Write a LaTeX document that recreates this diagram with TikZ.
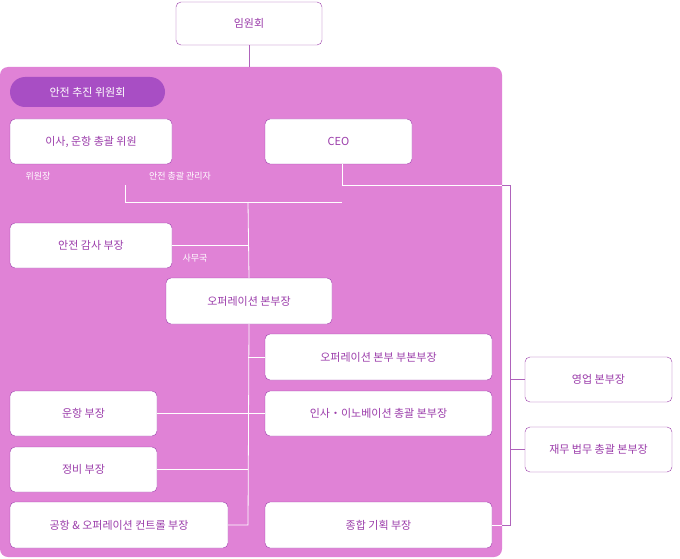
\documentclass[tikz,border=0pt]{standalone}
\usepackage{fontspec}
\setmainfont{Noto Sans CJK KR}
\definecolor{bgpink}{RGB}{224,130,214}
\definecolor{txtpurple}{RGB}{155,60,170}
\definecolor{pillpurple}{RGB}{168,78,196}
\tikzstyle{box}=[draw=txtpurple,fill=white,rounded corners=5pt,text=txtpurple,font=\fontsize{11}{13}\selectfont,inner sep=0pt]
\tikzstyle{note}=[text=white,font=\fontsize{9}{11}\selectfont,inner sep=0pt]
\tikzstyle{wline}=[white,line width=0.8pt]
\tikzstyle{pline}=[txtpurple!80,line width=0.8pt]

\begin{document}
\begin{tikzpicture}[x=1pt,y=-1pt]
\useasboundingbox (0,0) rectangle (680,559);
\fill [bgpink,rounded corners=8pt] (0,67) rectangle (502,557);

% boxes
\node [box,minimum width=146,minimum height=43] (board) at (249,23.5) {임원회};
\node [fill=pillpurple,rounded corners=15pt,minimum width=155,minimum height=30,inner sep=0pt,text=white,font=\fontsize{11}{13}\selectfont] (committee) at (87.5,92) {안전 추진 위원회};
\node [box,minimum width=162,minimum height=45] (chair) at (91,141.5) {이사, 운항 총괄 위원};
\node [box,minimum width=147,minimum height=45] (ceo) at (338.5,141.5) {CEO};
\node [box,minimum width=162,minimum height=45] (audit) at (91,245.5) {안전 감사 부장};
\node [box,minimum width=166,minimum height=46] (ops) at (249,301) {오퍼레이션 본부장};
\node [box,minimum width=227,minimum height=46] (deputy) at (378.5,357) {오퍼레이션 본부 부본부장};
\node [box,minimum width=227,minimum height=45] (hr) at (378.5,413.5) {인사・이노베이션 총괄 본부장};
\node [box,minimum width=147,minimum height=45] (flight) at (83.5,413.5) {운항 부장};
\node [box,minimum width=147,minimum height=45] (maint) at (83.5,469.5) {정비 부장};
\node [box,minimum width=218,minimum height=46] (occ) at (119,525) {공항 \& 오퍼레이션 컨트롤 부장};
\node [box,minimum width=227,minimum height=46] (plan) at (378.5,525) {종합 기획 부장};
\node [box,minimum width=147,minimum height=45] (sales) at (598.5,379.5) {영업 본부장};
\node [box,minimum width=147,minimum height=45] (finance) at (598.5,449.5) {재무 법무 총괄 본부장};

% notes
\node [note] (chairnote) at (38,176) {위원장};
\node [note] (safetynote) at (180,176) {안전 총괄 관리자};
\node [note] (officenote) at (195,258) {사무국};

% connectors
\coordinate (hub) at (248,202);
\coordinate (corner) at (510,185);
\draw [pline] (board.south) -- (249,67);
\draw [wline] (125,185) -- (125,202) -- (342,202);
\draw [wline] (ceo.south -| 342,0) -- (342,185) -- (corner);
\draw [pline] (502,185) -- (corner) -- (corner |- plan.east) -- (502,525);
\draw [wline] (plan.east) -- (502,525);
\draw [pline] (corner |- sales.west) -- (sales.west);
\draw [pline] (corner |- finance.west) -- (finance.west);
\draw [wline] (hub) -- (ops.north);
\draw [wline] (audit.east) -- (audit.east -| hub);
\draw [wline] (ops.south) -- (248,525) -- (occ.east);
\draw [wline] (deputy.west) -- (deputy.west -| hub);
\draw [wline] (hr.west) -- (flight.east);
\draw [wline] (maint.east) -- (maint.east -| hub);
\end{tikzpicture}
\end{document}
